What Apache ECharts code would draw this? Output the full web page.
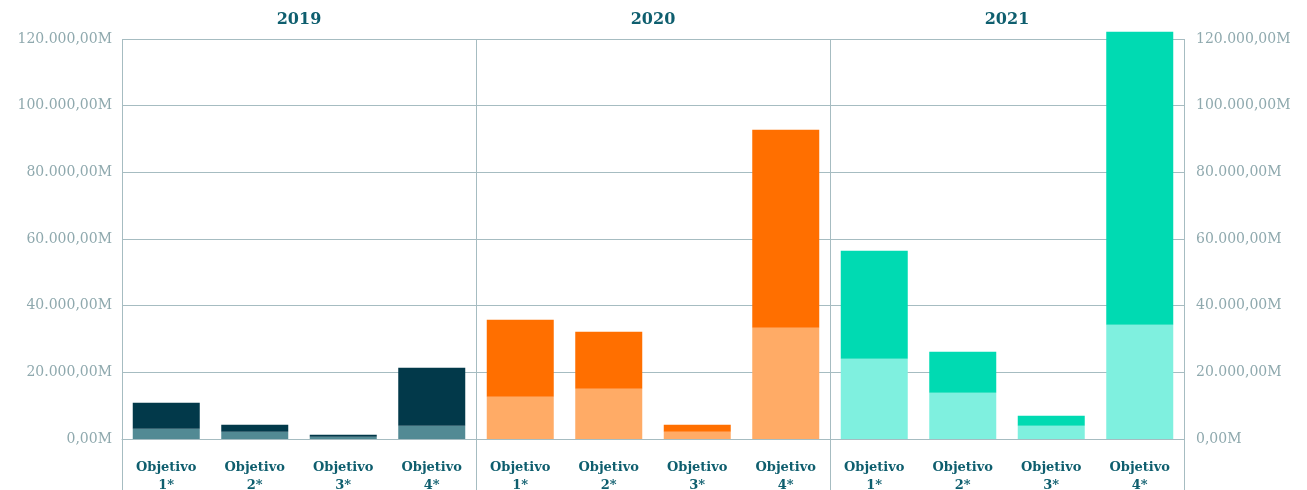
<!DOCTYPE html>
<html>
<head>
<meta charset="utf-8">
<script src="https://cdn.jsdelivr.net/npm/echarts@6/dist/echarts.min.js"></script>
<style>
  html, body { margin: 0; padding: 0; background: #fff; }
  #chart { width: 1307px; height: 490px; }
</style>
</head>
<body>
<div id="chart"></div>
<script>
// datos (en M)
var years = ["2019", "2020", "2021"];
var categories = ["Objetivo\n1*", "Objetivo\n2*", "Objetivo\n3*", "Objetivo\n4*"];
var base2019 = [3100, 2200, 700, 4000];
var extra2019 = [7800, 2100, 600, 17400];
var base2020 = [12700, 15100, 2200, 33400];
var extra2020 = [23100, 17100, 2100, 59400];
var base2021 = [24100, 13900, 4000, 34300];
var extra2021 = [32400, 12300, 3000, 87900];
var yTicks = [0, 20000, 40000, 60000, 80000, 100000, 120000];

var baseData = [base2019, base2020, base2021];
var extraData = [extra2019, extra2020, extra2021];
var baseColors = ["#528a94", "#ffab66", "#7ff0df"];
var extraColors = ["#02394a", "#ff6f00", "#00dab2"];

var lineColor = "#a6bcc1";
var labelGrey = "#8fa9ae";
var teal = "#0e5e6e";
var font = "DejaVu Serif";

// layout
var gridLeft = 122, gridW = 354, gridTop = 39, gridBottom = 51;

function fmt(v) {
  return Math.round(v).toString().replace(/\B(?=(\d{3})+(?!\d))/g, ".") + ",00M";
}

var chart = echarts.init(document.getElementById("chart"));

var grids = [], xAxes = [], yAxes = [], series = [], titles = [], graphics = [];
years.forEach(function (y, i) {
  grids.push({
    left: gridLeft + i * gridW,
    width: gridW,
    top: gridTop,
    bottom: gridBottom,
    containLabel: false,
    outerBoundsMode: "none",
  });
  titles.push({
    text: y,
    left: gridLeft + gridW * (i + 0.5),
    textAlign: "center",
    top: 12,
    padding: 0,
    textStyle: { fontFamily: font, fontWeight: "bold", fontSize: 16, color: teal },
  });
  xAxes.push({
    type: "category",
    gridIndex: i,
    data: categories,
    axisLine: { show: true, lineStyle: { color: lineColor, width: 1 } },
    axisTick: { show: false },
    axisLabel: {
      margin: 20,
      interval: 0,
      fontFamily: font,
      fontWeight: "bold",
      fontSize: 13,
      lineHeight: 18,
      color: teal,
    },
  });
  yAxes.push({
    type: "value",
    gridIndex: i,
    min: 0,
    max: 120000,
    interval: 20000,
    position: "left",
    axisLine: { show: false },
    axisTick: { show: false },
    axisLabel: {
      show: i === 0,
      margin: 10,
      formatter: fmt,
      fontFamily: font,
      fontSize: 14,
      color: labelGrey,
    },
    splitLine: { show: true, lineStyle: { color: lineColor, width: 1 } },
  });
  series.push({
    type: "bar",
    xAxisIndex: i,
    yAxisIndex: i,
    stack: "s" + i,
    data: baseData[i],
    barWidth: 67,
    clip: false,
    itemStyle: { color: baseColors[i] },
  });
  series.push({
    type: "bar",
    xAxisIndex: i,
    yAxisIndex: i,
    stack: "s" + i,
    data: extraData[i],
    barWidth: 67,
    clip: false,
    itemStyle: { color: extraColors[i] },
  });
});

// eje derecho en el último panel
yAxes.push({
  type: "value",
  gridIndex: 2,
  min: 0,
  max: 120000,
  interval: 20000,
  position: "right",
  axisLine: { show: false },
  axisTick: { show: false },
  splitLine: { show: false },
  axisLabel: {
    margin: 12,
    formatter: fmt,
    fontFamily: font,
    fontSize: 14,
    color: labelGrey,
  },
});

// separadores verticales que bajan hasta el borde inferior
for (var k = 0; k <= years.length; k++) {
  var x = gridLeft + k * gridW + 0.5;
  graphics.push({
    type: "line",
    shape: { x1: x, y1: gridTop, x2: x, y2: 490 },
    style: { stroke: lineColor, lineWidth: 1 },
    z: 10,
  });
}

var option = {
  animation: false,
  title: titles,
  grid: grids,
  xAxis: xAxes,
  yAxis: yAxes,
  series: series,
  graphic: graphics,
};
chart.setOption(option);
</script>
</body>
</html>
